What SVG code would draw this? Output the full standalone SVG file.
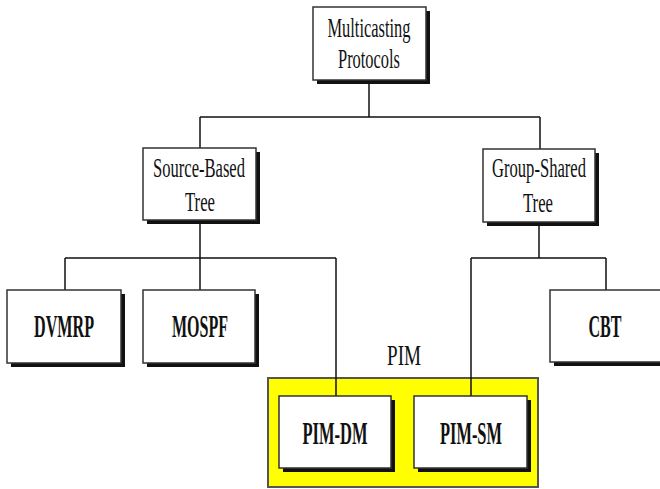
<svg xmlns="http://www.w3.org/2000/svg" width="660" height="489" viewBox="0 0 660 489">
<defs>
<style>
.shadow{fill:#111;}
.box{fill:#fff;stroke:#333;stroke-width:1.5;}
.t{font-family:"Liberation Serif","Times New Roman",serif;font-size:27px;fill:#111;text-anchor:middle;}
.p{font-family:"Liberation Serif","Times New Roman",serif;font-size:29px;fill:#111;text-anchor:middle;}
.b{font-family:"Liberation Serif","Times New Roman",serif;font-size:31px;font-weight:bold;fill:#111;text-anchor:middle;}
.c{fill:none;stroke:#111;stroke-width:1.5;}
</style>
</defs>
<rect width="660" height="489" fill="#fff"/>
<g id="pim-group">
<rect x="268" y="378" width="270" height="109" fill="#ffff00" stroke="#555" stroke-width="2"/>
<text class="p" x="404" y="365" textLength="34" lengthAdjust="spacingAndGlyphs">PIM</text>
</g>
<g id="connectors">
<path class="c" d="M369,80 V117 M200,117 H540 M200,117 V148 M540,117 V149"/>
<path class="c" d="M200,220 V258 M65,258 H336 M65,258 V290 M200,258 V290 M336,258 V396"/>
<path class="c" d="M539,222 V258 M471,258 H606 M471,258 V396 M606,258 V290"/>
</g>
<g id="multicasting-protocols">
<rect class="shadow" x="317" y="11" width="113" height="73"/>
<rect class="box" x="313" y="7" width="113" height="73"/>
<text class="t" x="369" y="37" textLength="83" lengthAdjust="spacingAndGlyphs">Multicasting</text>
<text class="t" x="369" y="68" textLength="62" lengthAdjust="spacingAndGlyphs">Protocols</text>
</g>
<g id="source-based-tree">
<rect class="shadow" x="147" y="152" width="113" height="72"/>
<rect class="box" x="143" y="148" width="113" height="72"/>
<text class="t" x="199" y="177" textLength="92" lengthAdjust="spacingAndGlyphs">Source-Based</text>
<text class="t" x="200" y="211" textLength="30" lengthAdjust="spacingAndGlyphs">Tree</text>
</g>
<g id="group-shared-tree">
<rect class="shadow" x="487" y="153" width="112" height="73"/>
<rect class="box" x="483" y="149" width="112" height="73"/>
<text class="t" x="539" y="177" textLength="94" lengthAdjust="spacingAndGlyphs">Group-Shared</text>
<text class="t" x="538" y="212" textLength="30" lengthAdjust="spacingAndGlyphs">Tree</text>
</g>
<g id="dvmrp">
<rect class="shadow" x="11" y="294" width="114" height="73"/>
<rect class="box" x="7" y="290" width="114" height="73"/>
<text class="b" x="64" y="337" textLength="60" lengthAdjust="spacingAndGlyphs">DVMRP</text>
</g>
<g id="mospf">
<rect class="shadow" x="147" y="294" width="112" height="73"/>
<rect class="box" x="143" y="290" width="112" height="73"/>
<text class="b" x="200" y="337" textLength="56" lengthAdjust="spacingAndGlyphs">MOSPF</text>
</g>
<g id="cbt">
<rect class="shadow" x="554" y="294" width="118" height="72"/>
<rect class="box" x="550" y="290" width="118" height="72"/>
<text class="b" x="605" y="337" textLength="33" lengthAdjust="spacingAndGlyphs">CBT</text>
</g>
<g id="pim-dm">
<rect class="shadow" x="283" y="400" width="112" height="72"/>
<rect class="box" x="279" y="396" width="112" height="72"/>
<text class="b" x="335" y="444" textLength="65" lengthAdjust="spacingAndGlyphs">PIM-DM</text>
</g>
<g id="pim-sm">
<rect class="shadow" x="418" y="400" width="113" height="72"/>
<rect class="box" x="414" y="396" width="113" height="72"/>
<text class="b" x="471" y="444" textLength="62" lengthAdjust="spacingAndGlyphs">PIM-SM</text>
</g>
</svg>
